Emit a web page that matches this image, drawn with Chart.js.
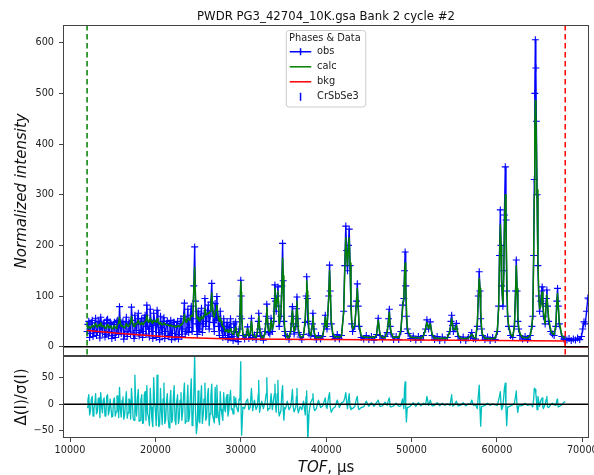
<!DOCTYPE html>
<html>
<head>
<meta charset="utf-8">
<title>PWDR PG3_42704_10K.gsa Bank 2 cycle #2</title>
<script src="https://cdn.jsdelivr.net/npm/chart.js@4.4.1/dist/chart.umd.min.js"></script>
<style>
  body { margin: 0; background: #fff; }
  #wrap { position: relative; width: 594px; height: 475px; }
  canvas { position: absolute; left: 0; }
  #mainChart { top: 0; }
  #diffChart { top: 350px; }
</style>
</head>
<body>
<div id="wrap">
  <canvas id="mainChart" width="594" height="356"></canvas>
  <canvas id="diffChart" width="594" height="125"></canvas>
</div>
<script>
// TOF channels (µs) and the observed / calculated intensity and the
// weighted difference at each of them.
var tof = [
  12000, 12100, 12200, 12300, 12400, 12500, 12600, 12700, 12800, 12900,
  13000, 13100, 13200, 13300, 13400, 13500, 13600, 13700, 13800, 13900,
  14000, 14100, 14200, 14300, 14400, 14500, 14600, 14700, 14800, 14900,
  15000, 15100, 15200, 15300, 15400, 15500, 15600, 15700, 15800, 15900,
  16000, 16100, 16200, 16300, 16400, 16500, 16600, 16700, 16800, 16900,
  17000, 17100, 17200, 17300, 17400, 17500, 17600, 17700, 17800, 17900,
  18000, 18100, 18200, 18300, 18400, 18500, 18600, 18700, 18800, 18900,
  19000, 19100, 19200, 19300, 19400, 19500, 19600, 19700, 19800, 19900,
  20000, 20100, 20200, 20300, 20400, 20500, 20600, 20700, 20800, 20900,
  21000, 21100, 21200, 21300, 21400, 21500, 21600, 21700, 21800, 21900,
  22000, 22100, 22200, 22300, 22400, 22500, 22600, 22700, 22800, 22900,
  23000, 23100, 23200, 23300, 23400, 23500, 23600, 23700, 23800, 23900,
  24000, 24100, 24200, 24300, 24400, 24500, 24600, 24700, 24800, 24900,
  25000, 25100, 25200, 25300, 25400, 25500, 25600, 25700, 25800, 25900,
  26000, 26100, 26200, 26300, 26400, 26500, 26600, 26700, 26800, 26900,
  27000, 27100, 27200, 27300, 27400, 27500, 27600, 27700, 27800, 27900,
  28000, 28100, 28200, 28300, 28400, 28500, 28600, 28700, 28800, 28900,
  29000, 29100, 29200, 29300, 29400, 29500, 29600, 29700, 29800, 29900,
  30000, 30050, 30100, 30250, 30450, 30650, 30800, 30950, 31100, 31250,
  31400, 31600, 31800, 31950, 32050, 32100, 32200, 32300, 32450, 32650,
  32850, 32980, 33050, 33150, 33250, 33400, 33550, 33700, 33850, 33950,
  34000, 34080, 34150, 34270, 34350, 34430, 34500, 34700, 34800, 34900,
  34970, 35050, 35150, 35250, 35450, 35650, 35850, 35980, 36050, 36150,
  36250, 36450, 36520, 36580, 36660, 36750, 36950, 37150, 37350, 37550,
  37650, 37720, 37790, 37850, 38000, 38200, 38380, 38450, 38550, 38650,
  38850, 39100, 39350, 39600, 39820, 39900, 40000, 40100, 40300, 40400,
  40480, 40600, 40800, 41050, 41300, 41550, 41800, 42050, 42180, 42300,
  42400, 42500, 42600, 42700, 42800, 42900, 43000, 43100, 43350, 43550,
  43650, 43750, 43850, 44100, 44400, 44700, 45000, 45300, 45600, 45900,
  46100, 46300, 46600, 46900, 47150, 47300, 47400, 47500, 47600, 47900,
  48200, 48500, 48750, 48950, 49100, 49180, 49250, 49320, 49400, 49500,
  49600, 49900, 50200, 50500, 50800, 51100, 51400, 51650, 51800, 52000,
  52200, 52400, 52700, 53000, 53300, 53600, 53900, 54200, 54500, 54620,
  54700, 54800, 54900, 55100, 55250, 55450, 55750, 56050, 56350, 56650,
  56900, 57050, 57250, 57500, 57700, 57820, 57930, 58020, 58100, 58200,
  58300, 58600, 58900, 59200, 59500, 59800, 60050, 60200, 60300, 60400,
  60480, 60550, 60700, 60800, 60880, 60980, 61060, 61150, 61250, 61350,
  61600, 61850, 62050, 62180, 62270, 62360, 62450, 62550, 62700, 63000,
  63300, 63600, 63900, 64100, 64200, 64300, 64380, 64440, 64500, 64560,
  64620, 64700, 64800, 64900, 65000, 65150, 65230, 65300, 65380, 65450,
  65650, 65780, 65850, 65930, 66050, 66300, 66500, 66700, 66900, 67020,
  67100, 67180, 67300, 67600, 67850, 68000,
  68200, 68450, 68700, 68950, 69200, 69450, 69700, 69900, 70050, 70200,
  70350, 70500, 70650, 70780
];

var obs = [
  30, 44, 50, 18, 26, 47, 52, 20, 32, 41,
  56, 22, 28, 49, 50, 17, 58, 40, 27, 45,
  47, 19, 24, 52, 54, 21, 30, 48, 46, 16,
  22, 44, 48, 18, 28, 50, 52, 24, 79, 38,
  26, 47, 50, 15, 25, 43, 58, 20, 30, 49,
  46, 24, 78, 52, 27, 16, 62, 44, 32, 55,
  66, 21, 28, 50, 55, 18, 30, 57, 62, 25,
  82, 40, 35, 19, 74, 48, 30, 16, 66, 52,
  42, 18, 72, 45, 28, 14, 60, 38, 25, 50,
  57, 16, 30, 46, 50, 20, 22, 44, 52, 14,
  26, 48, 48, 17, 20, 42, 50, 15, 24, 46,
  55, 20, 35, 60, 86, 25, 30, 52, 74, 28,
  38, 62, 80, 30, 55, 120, 197, 90, 45, 24,
  70, 30, 35, 58, 76, 28, 45, 66, 95, 40,
  50, 72, 82, 35, 60, 88, 125, 70, 48, 30,
  85, 52, 99, 60, 40, 22, 70, 45, 32, 18,
  55, 30, 22, 40, 48, 14, 18, 38, 55, 24,
  20, 12, 45, 30, 49, 28, 15, 10, 35, 60,
  131, 100, 55, 22, 15, 24, 39, 16, 22, 56,
  18, 23, 14, 28, 50, 66, 35, 20, 22, 13,
  30, 60, 84, 45, 28, 25, 56, 30, 50, 95,
  122, 90, 70, 100, 118, 80, 40, 60, 120, 204,
  130, 50, 30, 22, 20, 14, 30, 60, 79, 45,
  25, 40, 75, 98, 55, 28, 19, 14, 24, 48,
  100, 138, 95, 50, 25, 22, 45, 66, 35, 20,
  14, 22, 15, 20, 45, 62, 40, 35, 100, 161,
  110, 45, 20, 16, 24, 15, 22, 70, 160, 238,
  190, 150, 200, 232, 160, 80, 45, 30, 40, 90,
  124, 80, 40, 18, 15, 22, 14, 20, 13, 24,
  56, 22, 15, 20, 28, 55, 74, 40, 25, 14,
  20, 14, 30, 82, 95, 150, 187, 120, 60, 35,
  26, 16, 21, 13, 20, 14, 22, 35, 53, 35,
  49, 22, 14, 20, 12, 19, 13, 18, 30, 50,
  62, 42, 30, 35, 46, 20, 13, 19, 12, 18,
  20, 28, 16, 15, 40, 100, 148, 110, 55, 35,
  22, 14, 19, 12, 18, 14, 30, 80, 180, 270,
  200, 120, 80, 150, 260, 355, 250, 110, 60, 40,
  22, 18, 40, 110, 171, 110, 50, 35, 22, 15,
  20, 14, 22, 40, 60, 180, 330, 500, 606, 550,
  445, 300, 160, 100, 70, 90, 110, 118, 85, 60,
  45, 95, 112, 80, 50, 30, 25, 22, 40, 90,
  115, 80, 45, 20, 15, 14,
  13, 16, 12, 15, 13, 17, 14, 20, 35, 49,
  45, 70, 96, 94
];

// calc and diff stop at the upper TOF limit (68000)
var calc = [
  36, 38, 40, 37, 36, 40, 42, 39, 40, 43,
  46, 41, 38, 42, 44, 40, 47, 43, 39, 41,
  40, 37, 36, 41, 44, 39, 37, 41, 40, 36,
  35, 39, 42, 38, 36, 41, 44, 46, 58, 46,
  40, 42, 42, 38, 37, 41, 46, 42, 40, 42,
  43, 48, 60, 50, 42, 40, 46, 44, 45, 48,
  52, 46, 44, 46, 48, 44, 44, 48, 50, 54,
  62, 52, 48, 50, 56, 50, 47, 46, 52, 50,
  50, 48, 55, 50, 46, 44, 48, 45, 43, 45,
  47, 44, 44, 43, 44, 42, 41, 42, 43, 41,
  40, 41, 41, 39, 38, 40, 42, 40, 39, 42,
  45, 44, 45, 52, 64, 52, 48, 52, 56, 54,
  52, 56, 62, 60, 70, 110, 157, 95, 66, 55,
  58, 52, 50, 55, 60, 55, 56, 62, 76, 66,
  63, 64, 67, 66, 70, 80, 106, 80, 62, 58,
  69, 72, 82, 66, 54, 50, 58, 50, 43, 40,
  40, 34, 30, 32, 33, 29, 28, 31, 36, 30,
  26, 25, 31, 33, 39, 30, 22, 20, 28, 55,
  128, 108, 65, 24, 20, 22, 36, 21, 26, 50,
  24, 20, 19, 30, 46, 60, 40, 24, 19, 18,
  28, 55, 78, 50, 32, 30, 52, 34, 46, 90,
  115, 95, 75, 95, 110, 85, 46, 65, 110, 175,
  140, 68, 34, 26, 18, 19, 32, 55, 72, 48,
  30, 42, 70, 90, 60, 34, 20, 19, 22, 55,
  95, 130, 110, 80, 30, 22, 42, 60, 38, 25,
  18, 19, 18, 22, 42, 58, 42, 38, 95, 150,
  115, 52, 24, 19, 20, 19, 21, 68, 150, 215,
  185, 160, 190, 215, 165, 90, 50, 35, 42, 85,
  115, 85, 46, 22, 19, 19, 18, 19, 18, 23,
  52, 24, 18, 18, 30, 50, 68, 44, 28, 18,
  19, 18, 33, 75, 100, 135, 165, 125, 80, 40,
  30, 19, 18, 18, 18, 17, 21, 36, 48, 36,
  45, 25, 17, 17, 16, 17, 16, 17, 32, 46,
  55, 44, 34, 34, 42, 24, 16, 16, 16, 17,
  21, 25, 19, 17, 45, 95, 135, 115, 75, 38,
  25, 17, 16, 16, 16, 17, 32, 75, 165, 240,
  200, 130, 85, 135, 225, 300, 250, 150, 65, 45,
  25, 20, 40, 105, 160, 115, 60, 38, 26, 18,
  18, 17, 22, 42, 65, 170, 300, 420, 486, 470,
  400, 310, 170, 105, 75, 80, 100, 108, 90, 70,
  45, 88, 102, 85, 58, 32, 26, 24, 42, 85,
  105, 85, 50, 22, 18, 17
];

var diff = [
  -6, 8, 18, -20, -12, 10, 15, -22, -8, 0,
  20, -18, -14, 10, 12, -25, 22, -4, -16, 8,
  12, -22, -20, 15, 18, -20, -12, 10, 10, -24,
  -22, 8, 12, -22, -14, 16, 16, -25, 32, -10,
  -24, 8, 14, -28, -20, 4, 24, -26, -16, 10,
  8, -28, 30, 4, -26, -30, 55, -2, -22, 12,
  28, -32, -30, 8, 18, -36, -35, 18, 24, -30,
  35, -18, -24, -40, 30, -6, -30, -42, 50, 4,
  -12, -40, 55, -8, -42, -38, 30, -12, -38, 10,
  40, -36, -30, 6, 20, -28, -44, 4, 26, -34,
  -30, 12, 35, -30, -38, 6, 18, -36, -26, 8,
  22, -30, -14, 15, 40, -36, -32, 0, 36, -32,
  -22, 14, 48, -40, -30, 20, 95, -15, -55, -40,
  25, -32, -35, 8, 35, -36, -20, 10, 40, -30,
  -25, 15, 30, -40, -18, 15, 38, -20, -28, -35,
  32, -25, 36, -10, -26, -38, 24, -10, -20, -30,
  22, -8, -14, 12, 18, -22, -12, 10, 26, -10,
  -8, -18, 15, -5, 12, -4, -10, -14, 10, 8,
  80, -20, -58, -5, -8, 6, 10, -10, -6, 30,
  -12, 8, -10, -3, 20, 45, -15, -6, 6, -8,
  4, 20, 50, -12, -8, -8, 20, -10, 10, 20,
  38, -5, -15, 20, 45, -10, -22, -12, 20, 35,
  -10, -30, -6, -8, 6, -10, -4, 15, 28, -6,
  -14, -5, 15, 30, -8, -16, -4, -10, 6, -20,
  15, 25, -20, -70, -15, 4, 10, 20, -6, -12,
  -8, 8, -6, -3, 8, 12, -4, -8, 15, 22,
  -5, -15, -8, -5, 8, -6, 3, 5, 12, 22,
  5, -8, 8, 20, -5, -10, -8, -8, -4, 10,
  15, -5, -10, -6, -5, 6, -4, 3, -4, 3,
  8, -4, -3, 4, -2, 8, 12, -4, -5, -3,
  2, -4, -3, 10, -8, 30, 42, -5, -33, -6,
  -6, -3, 3, -4, 3, -3, 2, -1, 15, -2,
  8, -3, -2, 3, -3, 2, -2, 1, -2, 10,
  18, -3, -3, 1, 6, -3, -2, 3, -3, 1,
  0, 8, -2, -1, -8, 15, 36, -10, -41, -4,
  -4, -2, 2, -2, 1, -1, -2, 8, 15, 24,
  0, -10, -4, 15, 30, 40, -10, -40, -5, -5,
  -3, -1, 2, 15, 25, -5, -15, -3, -3, -2,
  2, -2, 0, -2, -5, 10, 30, 28, 28, 20,
  10, -10, 15, 5, -4, 8, 10, 12, -5, -8,
  0, 10, 15, -5, -6, -1, 2, -1, -2, 8,
  10, -5, -4, -1, 4, 5
];

// refined background
var bkgTof = [12000, 14000, 16000, 18000, 20000, 22000, 24000, 26000, 28000,
  30000, 35000, 40000, 50000, 60000, 68000, 68000, 70785];
var bkg = [32, 29, 26, 23.5, 21, 19, 17.5, 16.5, 15.5,
  15, 14.5, 14, 13, 12, 11, 0, 0];

var limits = [12000, 68000];
var phaseName = 'CrSbSe3';
var xTicks = [10000, 20000, 30000, 40000, 50000, 60000, 70000];
var yTicks = [0, 100, 200, 300, 400, 500, 600];
var diffTicks = [-50, 0, 50];

var FONT = 'DejaVu Sans';
var EDGE = '#444444';
var BLUE = '#0000ff', GREEN = '#008000', RED = '#ff0000', CYAN = '#00bfbf';

function pts(xs, ys) {
  var out = [];
  for (var i = 0; i < ys.length; i++) out.push({ x: xs[i], y: ys[i] });
  return out;
}

function fixedTicks(values) {
  return function (scale) {
    scale.ticks = values.map(function (v) { return { value: v }; });
  };
}

function tickText(v) {
  return v < 0 ? '\u2212' + Math.abs(v) : String(v);
}

// y axis box is pinned so both panels share the same left edge
function pinY(scale) {
  scale.width = 63;
  scale.paddingTop = 0;
  scale.paddingBottom = 0;
}

function yAxis(min, max, ticks) {
  return {
    min: min, max: max,
    afterBuildTicks: fixedTicks(ticks),
    afterFit: pinY,
    grid: { drawOnChartArea: false, tickLength: 4, color: EDGE },
    border: { display: false },
    ticks: { color: '#222', font: { family: FONT, size: 9.7 }, padding: 5, callback: tickText }
  };
}

// box around the plot area
var frame = {
  id: 'frame',
  afterDraw: function (chart) {
    var a = chart.chartArea, ctx = chart.ctx;
    ctx.save();
    ctx.strokeStyle = EDGE;
    ctx.lineWidth = 1;
    ctx.strokeRect(a.left + 0.5, a.top + 0.5, a.right - a.left - 1, a.bottom - a.top - 1);
    ctx.restore();
  }
};

function zeroLine(chart) {
  var a = chart.chartArea, ctx = chart.ctx;
  var y0 = chart.scales.y.getPixelForValue(0);
  ctx.save();
  ctx.strokeStyle = '#000';
  ctx.lineWidth = 1.5;
  ctx.beginPath();
  ctx.moveTo(a.left, y0);
  ctx.lineTo(a.right, y0);
  ctx.stroke();
  ctx.restore();
}

function drawLegend(chart) {
  var ctx = chart.ctx, a = chart.chartArea;
  var w = 79.5, h = 76.5;
  var left = (a.left + a.right) / 2 - w / 2, top = 30.5;
  var hx = left + 14.3;   // centre of the handles
  ctx.save();
  ctx.fillStyle = 'rgba(255,255,255,0.85)';
  ctx.strokeStyle = '#cccccc';
  ctx.lineWidth = 1;
  ctx.beginPath();
  ctx.roundRect(left, top, w, h, 3);
  ctx.fill();
  ctx.stroke();

  ctx.fillStyle = '#222';
  ctx.font = '9.8px "' + FONT + '"';
  ctx.textBaseline = 'middle';
  ctx.textAlign = 'left';
  ctx.fillText('Phases & Data', left + 2.8, top + 7.5);

  var rows = [
    { label: 'obs', color: BLUE, kind: 'marker' },
    { label: 'calc', color: GREEN, kind: 'line' },
    { label: 'bkg', color: RED, kind: 'line' },
    { label: phaseName, color: BLUE, kind: 'tick' }
  ];
  rows.forEach(function (r, i) {
    var y = top + 21.3 + i * 15;
    ctx.strokeStyle = r.color;
    ctx.lineWidth = 1.5;
    ctx.beginPath();
    if (r.kind === 'tick') {
      ctx.moveTo(hx, y - 4);
      ctx.lineTo(hx, y + 4);
    } else {
      ctx.moveTo(left + 3.5, y);
      ctx.lineTo(left + 25, y);
      if (r.kind === 'marker') {
        ctx.moveTo(hx, y - 3.5);
        ctx.lineTo(hx, y + 3.5);
      }
    }
    ctx.stroke();
    ctx.fillStyle = '#222';
    ctx.fillText(r.label, left + 30.8, y);
  });
  ctx.restore();
}

var mainDecor = {
  id: 'mainDecor',
  afterDatasetsDraw: function (chart) {
    var a = chart.chartArea, ctx = chart.ctx, x = chart.scales.x;
    zeroLine(chart);
    // excluded-region limits
    [GREEN, RED].forEach(function (c, i) {
      var px = x.getPixelForValue(limits[i]);
      ctx.save();
      ctx.strokeStyle = c;
      ctx.lineWidth = 1.5;
      ctx.setLineDash([5.5, 3.5]);
      ctx.beginPath();
      ctx.moveTo(px, a.top);
      ctx.lineTo(px, a.bottom);
      ctx.stroke();
      ctx.restore();
    });
  },
  afterDraw: function (chart) {
    var ctx = chart.ctx, a = chart.chartArea;
    ctx.save();
    ctx.fillStyle = '#111';
    ctx.textAlign = 'center';
    ctx.textBaseline = 'alphabetic';
    ctx.font = '11.7px "' + FONT + '"';
    ctx.fillText('PWDR PG3_42704_10K.gsa Bank 2 cycle #2', (a.left + a.right) / 2, 19.8);

    ctx.translate(22, (a.top + chart.scales.y.getPixelForValue(0)) / 2 + 5);
    ctx.rotate(-Math.PI / 2);
    ctx.textBaseline = 'middle';
    ctx.font = 'italic 15px "' + FONT + '"';
    ctx.fillText('Normalized intensity', 0, 0);
    ctx.restore();
    drawLegend(chart);
  }
};

var diffDecor = {
  id: 'diffDecor',
  afterDatasetsDraw: function (chart) {
    zeroLine(chart);
  },
  afterDraw: function (chart) {
    var ctx = chart.ctx, a = chart.chartArea;
    ctx.save();
    ctx.fillStyle = '#111';
    ctx.textBaseline = 'alphabetic';
    ctx.textAlign = 'left';
    // x label: "TOF" in italics followed by the unit
    ctx.font = 'italic 15px "' + FONT + '"';
    var w1 = ctx.measureText('TOF').width;
    ctx.font = '15px "' + FONT + '"';
    var w2 = ctx.measureText(', \u00b5s').width;
    var x0 = (a.left + a.right) / 2 - (w1 + w2) / 2;
    ctx.font = 'italic 15px "' + FONT + '"';
    ctx.fillText('TOF', x0, 121.5);
    ctx.font = '15px "' + FONT + '"';
    ctx.fillText(', \u00b5s', x0 + w1, 121.5);

    ctx.translate(22.5, 47);
    ctx.rotate(-Math.PI / 2);
    ctx.textAlign = 'center';
    ctx.textBaseline = 'middle';
    ctx.fillText('\u0394(I)/\u03c3(I)', 0, 0);
    ctx.restore();
  }
};

var xRange = { type: 'linear', min: 9180, max: 70785 };

var mainChart = new Chart(document.getElementById('mainChart'), {
  type: 'line',
  data: {
    datasets: [
      { label: 'bkg', data: pts(bkgTof, bkg), borderColor: RED, borderWidth: 1.5, pointRadius: 0 },
      { label: 'calc', data: pts(tof, calc), borderColor: GREEN, borderWidth: 1.5, pointRadius: 0,
        borderJoinStyle: 'round' },
      { label: 'obs', data: pts(tof, obs), borderColor: BLUE, borderWidth: 1.4, borderJoinStyle: 'round',
        pointStyle: 'cross', pointRadius: 3.5, pointBorderColor: BLUE, pointBorderWidth: 1.1 }
    ]
  },
  options: {
    responsive: false,
    animation: false,
    events: [],
    layout: { autoPadding: false, padding: { top: 25, right: 5, bottom: 0, left: 0 } },
    plugins: { legend: { display: false }, tooltip: { enabled: false } },
    elements: { line: { tension: 0 } },
    scales: {
      x: Object.assign({ display: false }, xRange),
      y: yAxis(-18.4, 635, yTicks)
    }
  },
  plugins: [frame, mainDecor]
});

var diffChart = new Chart(document.getElementById('diffChart'), {
  type: 'line',
  data: {
    datasets: [
      { label: 'diff', data: pts(tof, diff), borderColor: CYAN, borderWidth: 1.3, pointRadius: 0,
        borderJoinStyle: 'round' }
    ]
  },
  options: {
    responsive: false,
    animation: false,
    events: [],
    layout: { autoPadding: false, padding: { top: 6, right: 5, bottom: 0, left: 0 } },
    plugins: { legend: { display: false }, tooltip: { enabled: false } },
    elements: { line: { tension: 0 } },
    scales: {
      x: Object.assign({
        afterBuildTicks: fixedTicks(xTicks),
        afterFit: function (scale) {
          scale.height = 37;
          scale.paddingLeft = 0;
          scale.paddingRight = 0;
        },
        grid: { drawOnChartArea: false, tickLength: 4, color: EDGE },
        border: { display: false },
        ticks: { color: '#222', font: { family: FONT, size: 9.7 }, padding: 3,
          maxRotation: 0, autoSkip: false, callback: tickText }
      }, xRange),
      y: yAxis(-63.3, 90.8, diffTicks)
    }
  },
  plugins: [frame, diffDecor]
});
</script>
</body>
</html>
